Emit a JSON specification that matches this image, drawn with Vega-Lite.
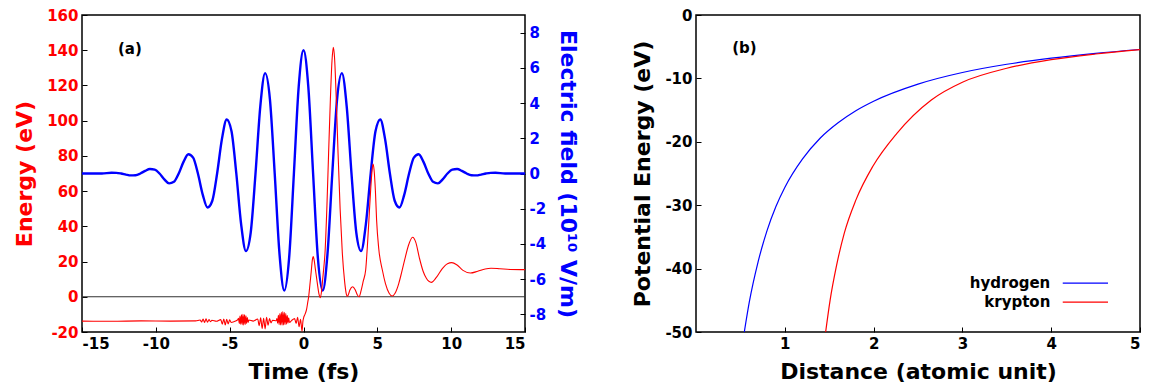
{
  "$schema": "https://vega.github.io/schema/vega-lite/v6.json",
  "padding": {"left": 12, "top": 7, "right": 5, "bottom": 4},
  "config": {
    "font": "DejaVu Sans",
    "view": {"stroke": "black", "strokeWidth": 1.5},
    "axis": {"grid": false, "domain": false, "tickSize": -5, "tickColor": "black", "labelFont": "DejaVu Sans", "labelFontWeight": "bold", "labelFontSize": 15, "labelColor": "black", "titleFont": "DejaVu Sans", "titleFontWeight": "bold", "titleFontSize": 22, "titleColor": "black", "labelPadding": 9, "titlePadding": 10, "labelOverlap": false}
  },
  "spacing": 51,
  "hconcat": [
    {
      "width": 443,
      "height": 317,
      "title": {"text": "(a)", "anchor": "start", "orient": "top", "frame": "group", "offset": -49, "dx": 36, "fontSize": 15, "fontWeight": "bold", "font": "DejaVu Sans", "color": "black"},
      "layer": [
        {
          "data": {"values": [
            {"t":-15,"f":0},{"t":-14.3,"f":0},{"t":-13.65,"f":0},{"t":-13.0,"f":0.041},{"t":-12.675,"f":0.037},{"t":-12.35,"f":0},{"t":-12.025,"f":-0.06},{"t":-11.7,"f":-0.108},{"t":-11.375,"f":-0.096},{"t":-11.05,"f":0},{"t":-10.725,"f":0.148},{"t":-10.4,"f":0.259},{"t":-10.075,"f":0.224},{"t":-9.75,"f":0},{"t":-9.425,"f":-0.33},{"t":-9.1,"f":-0.561},{"t":-8.775,"f":-0.473},{"t":-8.45,"f":0},{"t":-8.125,"f":0.661},{"t":-7.8,"f":1.095},{"t":-7.475,"f":0.901},{"t":-7.15,"f":0},{"t":-6.825,"f":-1.196},{"t":-6.5,"f":-1.931},{"t":-6.175,"f":-1.548},{"t":-5.85,"f":0},{"t":-5.525,"f":1.951},{"t":-5.2,"f":3.07},{"t":-4.875,"f":2.398},{"t":-4.55,"f":0},{"t":-4.225,"f":-2.872},{"t":-3.9,"f":-4.402},{"t":-3.575,"f":-3.352},{"t":-3.25,"f":0},{"t":-2.925,"f":3.813},{"t":-2.6,"f":5.697},{"t":-2.275,"f":4.227},{"t":-1.95,"f":0},{"t":-1.625,"f":-4.566},{"t":-1.3,"f":-6.649},{"t":-0.975,"f":-4.808},{"t":-0.65,"f":0},{"t":-0.325,"f":4.933},
            {"t":0,"f":7},
            {"t":0.325,"f":4.933},{"t":0.65,"f":0},{"t":0.975,"f":-4.808},{"t":1.3,"f":-6.649},{"t":1.625,"f":-4.566},{"t":1.95,"f":0},{"t":2.275,"f":4.227},{"t":2.6,"f":5.697},{"t":2.925,"f":3.813},{"t":3.25,"f":0},{"t":3.575,"f":-3.352},{"t":3.9,"f":-4.402},{"t":4.225,"f":-2.872},{"t":4.55,"f":0},{"t":4.875,"f":2.398},{"t":5.2,"f":3.07},{"t":5.525,"f":1.951},{"t":5.85,"f":0},{"t":6.175,"f":-1.548},{"t":6.5,"f":-1.931},{"t":6.825,"f":-1.196},{"t":7.15,"f":0},{"t":7.475,"f":0.901},{"t":7.8,"f":1.095},{"t":8.125,"f":0.661},{"t":8.45,"f":0},{"t":8.775,"f":-0.473},{"t":9.1,"f":-0.561},{"t":9.425,"f":-0.33},{"t":9.75,"f":0},{"t":10.075,"f":0.224},{"t":10.4,"f":0.259},{"t":10.725,"f":0.148},{"t":11.05,"f":0},{"t":11.375,"f":-0.096},{"t":11.7,"f":-0.108},{"t":12.025,"f":-0.06},{"t":12.35,"f":0},{"t":12.675,"f":0.037},{"t":13.0,"f":0.041},{"t":13.65,"f":0},{"t":14.3,"f":0},{"t":15,"f":0}
          ]},
          "mark": {"type": "line", "color": "#0000ff", "strokeWidth": 2.4, "interpolate": "monotone"},
          "encoding": {
            "x": {"field": "t", "type": "quantitative", "scale": {"domain": [-15, 15], "nice": false, "zero": false}, "axis": {"title": "Time (fs)", "values": [-15, -10, -5, 0, 5, 10, 15], "labelExpr": "toString(datum.value)"}},
            "y": {"field": "f", "type": "quantitative", "scale": {"domain": [-9, 9], "nice": false, "zero": false}, "axis": {"orient": "right", "title": "Electric field (10¹⁰ V/m)", "titleColor": "#0000ff", "labelColor": "#0000ff", "values": [-8, -6, -4, -2, 0, 2, 4, 6, 8], "labelExpr": "toString(datum.value)"}}
          }
        },
        {
          "data": {"values": [
            {"t":-15,"e":0,"z":1},{"t":15,"e":0,"z":1},
            {"t":-15,"e":-13.8},{"t":-13,"e":-13.9},{"t":-11,"e":-13.7},{"t":-9,"e":-13.8},{"t":-7.3,"e":-13.7},{"t":-7.0,"e":-13.2},{"t":-6.9,"e":-14.3},{"t":-6.8,"e":-12.6},{"t":-6.7,"e":-14.6},{"t":-6.6,"e":-12.5},{"t":-6.5,"e":-14.5},{"t":-6.4,"e":-12.9},{"t":-6.3,"e":-14.2},{"t":-6.2,"e":-13.3},{"t":-5.9,"e":-13.9},{"t":-5.6,"e":-13.0},{"t":-5.5,"e":-15.6},{"t":-5.4,"e":-12.6},{"t":-5.3,"e":-16.0},{"t":-5.2,"e":-12.8},{"t":-5.1,"e":-15.4},{"t":-5.0,"e":-13.1},{"t":-4.9,"e":-14.6},{"t":-4.6,"e":-13.8},{"t":-4.45,"e":-13.0},{"t":-4.4,"e":-12.2},{"t":-4.35,"e":-15.2},{"t":-4.3,"e":-11.0},{"t":-4.25,"e":-15.6},{"t":-4.2,"e":-10.3},{"t":-4.15,"e":-15.9},{"t":-4.1,"e":-10.0},{"t":-4.05,"e":-16.0},{"t":-4.0,"e":-10.2},{"t":-3.95,"e":-15.7},{"t":-3.9,"e":-10.8},{"t":-3.85,"e":-15.2},{"t":-3.8,"e":-11.8},{"t":-3.75,"e":-14.6},{"t":-3.7,"e":-13.2},{"t":-3.4,"e":-13.8},{"t":-3.1,"e":-12.6},{"t":-3.0,"e":-16.4},{"t":-2.9,"e":-12.0},{"t":-2.8,"e":-18.0},{"t":-2.7,"e":-12.2},{"t":-2.6,"e":-18.2},{"t":-2.5,"e":-11.6},{"t":-2.4,"e":-16.2},{"t":-2.3,"e":-12.4},{"t":-2.2,"e":-14.8},{"t":-2.1,"e":-13.4},{"t":-1.85,"e":-13.6},{"t":-1.8,"e":-12.4},{"t":-1.75,"e":-15.0},{"t":-1.7,"e":-10.5},{"t":-1.65,"e":-15.8},{"t":-1.6,"e":-9.5},{"t":-1.55,"e":-16.0},{"t":-1.5,"e":-8.8},{"t":-1.45,"e":-16.1},{"t":-1.4,"e":-8.4},{"t":-1.35,"e":-16.0},{"t":-1.3,"e":-8.8},{"t":-1.25,"e":-15.8},{"t":-1.2,"e":-9.5},{"t":-1.15,"e":-15.5},{"t":-1.1,"e":-10.6},{"t":-1.05,"e":-15.0},{"t":-1.0,"e":-12.0},{"t":-0.95,"e":-14.6},{"t":-0.8,"e":-13.4},{"t":-0.6,"e":-12.4},{"t":-0.5,"e":-15.2},{"t":-0.4,"e":-11.6},{"t":-0.3,"e":-17.0},{"t":-0.2,"e":-12.8},{"t":-0.1,"e":-19.6},{"t":-0.04,"e":-14.0},{"t":0.0,"e":-12.2},{"t":0.1,"e":-10.0},{"t":0.2,"e":-7.5},{"t":0.3,"e":-2.5},{"t":0.35,"e":0.0},{"t":0.42,"e":5.7},{"t":0.52,"e":14},{"t":0.6,"e":21},{"t":0.66,"e":22.8},{"t":0.72,"e":21},{"t":0.8,"e":16},{"t":0.93,"e":8},{"t":1.05,"e":1.5},{"t":1.14,"e":-0.5},{"t":1.22,"e":3},{"t":1.3,"e":10},{"t":1.38,"e":17},{"t":1.455,"e":24.7},{"t":1.58,"e":50},{"t":1.7,"e":81.5},{"t":1.82,"e":112},{"t":1.93,"e":134},{"t":2.02,"e":141.6},{"t":2.1,"e":136},{"t":2.22,"e":112},{"t":2.34,"e":81.5},{"t":2.48,"e":50},{"t":2.63,"e":24.7},{"t":2.78,"e":9},{"t":2.9,"e":1.5},{"t":2.97,"e":0.3},{"t":3.05,"e":1.5},{"t":3.15,"e":4},{"t":3.33,"e":5.7},{"t":3.5,"e":4},{"t":3.65,"e":1},{"t":3.76,"e":0},{"t":3.9,"e":3.5},{"t":4.05,"e":9},{"t":4.21,"e":15.2},{"t":4.32,"e":28},{"t":4.43,"e":43.6},{"t":4.55,"e":61},{"t":4.64,"e":71.5},{"t":4.71,"e":75.4},{"t":4.78,"e":72},{"t":4.87,"e":60},{"t":4.95,"e":43.6},{"t":5.1,"e":27},{"t":5.34,"e":15.2},{"t":5.55,"e":7.5},{"t":5.8,"e":2},{"t":6.01,"e":0.4},{"t":6.2,"e":2},{"t":6.45,"e":7.5},{"t":6.65,"e":14},{"t":6.85,"e":20.9},{"t":7.1,"e":29},{"t":7.39,"e":33.8},{"t":7.6,"e":31},{"t":7.85,"e":22},{"t":8.1,"e":14.5},{"t":8.32,"e":10.5},{"t":8.66,"e":8.2},{"t":9.0,"e":11},{"t":9.4,"e":16},{"t":9.75,"e":18.8},{"t":10.04,"e":19.4},{"t":10.4,"e":18},{"t":10.8,"e":15},{"t":11.3,"e":13.5},{"t":11.8,"e":14.5},{"t":12.3,"e":15.8},{"t":12.7,"e":16.2},{"t":13.3,"e":15.9},{"t":14,"e":15.5},{"t":15,"e":15.4}
          ]},
          "mark": {"type": "line", "strokeWidth": 1.1, "interpolate": "monotone"},
          "encoding": {
            "x": {"field": "t", "type": "quantitative", "scale": {"domain": [-15, 15], "nice": false, "zero": false}},
            "y": {"field": "e", "type": "quantitative", "scale": {"domain": [-20, 160], "nice": false, "zero": false}, "axis": {"orient": "left", "title": "Energy (eV)", "titleColor": "#ff0000", "labelColor": "#ff0000", "values": [-20, 0, 20, 40, 60, 80, 100, 120, 140, 160], "labelExpr": "toString(datum.value)", "labelOverlap": false}},
            "detail": {"field": "z"},
            "color": {"condition": {"test": "datum.z == 1", "value": "#303030"}, "value": "#ff0000"}
          }
        }
      ],
      "resolve": {"scale": {"y": "independent"}}
    },
    {
      "width": 444,
      "height": 317,
      "layer": [
        {
          "data": {"values": [
            {"series":"hydrogen","r":0.544,"v":-50},{"series":"hydrogen","r":0.6,"v":-45.3},{"series":"hydrogen","r":0.7,"v":-38.9},{"series":"hydrogen","r":0.8,"v":-34.0},{"series":"hydrogen","r":0.9,"v":-30.2},{"series":"hydrogen","r":1.0,"v":-27.2},{"series":"hydrogen","r":1.2,"v":-22.7},{"series":"hydrogen","r":1.4,"v":-19.4},{"series":"hydrogen","r":1.6,"v":-17.0},{"series":"hydrogen","r":1.8,"v":-15.1},{"series":"hydrogen","r":2.0,"v":-13.6},{"series":"hydrogen","r":2.5,"v":-10.9},{"series":"hydrogen","r":3.0,"v":-9.07},{"series":"hydrogen","r":3.5,"v":-7.77},{"series":"hydrogen","r":4.0,"v":-6.8},{"series":"hydrogen","r":4.5,"v":-6.04},{"series":"hydrogen","r":5.0,"v":-5.44},
            {"series":"krypton","r":1.46,"v":-50},{"series":"krypton","r":1.51,"v":-45},{"series":"krypton","r":1.58,"v":-39.7},{"series":"krypton","r":1.67,"v":-34.4},{"series":"krypton","r":1.8,"v":-29.2},{"series":"krypton","r":1.99,"v":-23.9},{"series":"krypton","r":2.26,"v":-18.7},{"series":"krypton","r":2.65,"v":-13.4},{"series":"krypton","r":3.0,"v":-10.6},{"series":"krypton","r":3.5,"v":-8.4},{"series":"krypton","r":4.0,"v":-7.05},{"series":"krypton","r":4.5,"v":-6.15},{"series":"krypton","r":5.0,"v":-5.45}
          ]},
          "mark": {"type": "line", "strokeWidth": 1.2, "interpolate": "monotone", "clip": true},
          "encoding": {
            "x": {"field": "r", "type": "quantitative", "scale": {"domain": [0, 5], "nice": false}, "axis": {"title": "Distance (atomic unit)", "values": [1, 2, 3, 4, 5], "labelExpr": "toString(datum.value)"}},
            "y": {"field": "v", "type": "quantitative", "scale": {"domain": [-50, 0], "nice": false}, "axis": {"title": "Potential Energy (eV)", "values": [-50, -40, -30, -20, -10, 0], "labelExpr": "toString(datum.value)"}},
            "color": {"field": "series", "type": "nominal", "scale": {"domain": ["hydrogen", "krypton"], "range": ["#0000ff", "#ff0000"]}, "legend": null}
          }
        },
        {
          "data": {"values": [{"series": "hydrogen"}]},
          "mark": {"type": "rule", "strokeWidth": 1.2},
          "encoding": {"x": {"datum": 4.13}, "x2": {"datum": 4.64}, "y": {"datum": -42.3}, "color": {"field": "series", "type": "nominal"}}
        },
        {
          "data": {"values": [{"series": "krypton"}]},
          "mark": {"type": "rule", "strokeWidth": 1.2},
          "encoding": {"x": {"datum": 4.13}, "x2": {"datum": 4.64}, "y": {"datum": -45.3}, "color": {"field": "series", "type": "nominal"}}
        },
        {
          "data": {"values": [{"series": "hydrogen"}]},
          "mark": {"type": "text", "align": "right", "baseline": "middle", "fontWeight": "bold", "fontSize": 15, "font": "DejaVu Sans", "color": "black"},
          "encoding": {"x": {"datum": 3.99}, "y": {"datum": -42.3}, "text": {"field": "series"}}
        },
        {
          "data": {"values": [{"series": "krypton"}]},
          "mark": {"type": "text", "align": "right", "baseline": "middle", "fontWeight": "bold", "fontSize": 15, "font": "DejaVu Sans", "color": "black"},
          "encoding": {"x": {"datum": 3.99}, "y": {"datum": -45.3}, "text": {"field": "series"}}
        },
        {
          "data": {"values": [{"label": "(b)"}]},
          "mark": {"type": "text", "fontWeight": "bold", "fontSize": 15, "font": "DejaVu Sans", "color": "black"},
          "encoding": {"x": {"datum": 0.546}, "y": {"datum": -5.2}, "text": {"field": "label"}}
        }
      ]
    }
  ]
}
